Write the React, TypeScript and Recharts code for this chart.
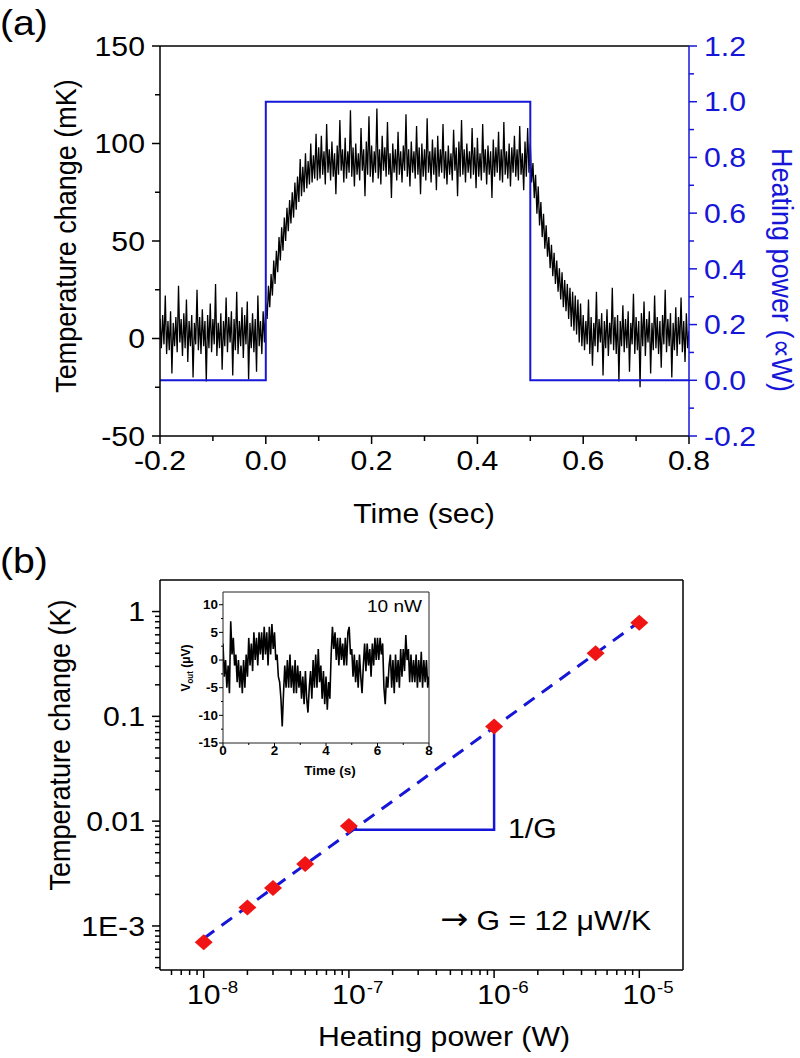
import React from 'react'
import { ComposedChart, Line, Scatter, XAxis, YAxis, ReferenceLine } from 'recharts'

const FONT = '"Liberation Sans", Arial, Helvetica, sans-serif'
const SX = 1.12 // the figure is a bit stretched sideways, text included
const BLUE = '#1616d8'
const RED = '#f01414'

// ---------- (a) temperature step ----------
// trace sampled every 2.5 ms starting at -0.2 s
const T0 = -0.2
const DT = 0.0025
const tempBefore = [
  10, -5, 12, -3, 22, -8, 9, -6, 14, -18,
  8, -4, 11, -7, 27, -2, 10, -9, 13, -5,
  20, -12, 9, -4, 12, -20, 8, -3, 25, -6,
  11, -8, 15, -4, 9, -22, 12, -5, 18, -7,
  10, -3, 28, -9, 8, -5, 13, -16, 9, -4,
  21, -7, 11, -2, 14, -19, 10, -6, 24, -8,
  9, -4, 16, -10, 12, -3, 19, -21, 8, -5,
  13, -7, 10, -17, 22, -4, 9, -8, 14, -2,
]
const tempRise = [
  18, 10, 27, 16, 33, 22, 40, 28, 45, 34,
  52, 40, 57, 45, 62, 50, 67, 55, 71, 59,
  75, 62, 80, 66, 83, 70, 92, 73, 88, 75,
  95, 77, 91, 79, 100, 80, 94, 82, 105, 81,
]
const tempOn = [
  98, 82, 104, 84, 96, 79, 110, 85, 97, 81,
  101, 83, 95, 74, 99, 84, 112, 86, 97, 80,
  103, 82, 96, 85, 117, 83, 98, 78, 100, 84,
  95, 81, 108, 86, 97, 73, 101, 84, 114, 83,
  99, 80, 96, 85, 118, 82, 97, 79, 104, 86,
  98, 83, 111, 84, 95, 72, 100, 85, 97, 81,
  106, 84, 96, 80, 99, 86, 115, 83, 97, 78,
  101, 85, 96, 82, 109, 84, 98, 74, 100, 83,
  97, 81, 113, 85, 96, 80, 102, 84, 98, 76,
  104, 83, 97, 85, 110, 82, 96, 79, 99, 84,
  95, 81, 107, 86, 98, 73, 101, 83, 112, 84,
  97, 80, 100, 85, 96, 82, 108, 84, 98, 77,
  103, 83, 95, 81, 110, 85, 97, 79, 99, 84,
  96, 72, 102, 83, 98, 85, 106, 81, 97, 80,
  111, 84, 96, 82, 100, 78, 98, 85, 104, 83,
  97, 81, 109, 84, 95, 76, 101, 83, 108, 85,
]
const tempDecay = [
  100, 80, 90, 72, 84, 64, 78, 58, 70, 52,
  64, 46, 58, 42, 52, 36, 48, 32, 44, 28,
  40, 24, 36, 20, 34, 16, 30, 14, 28, 10,
  26, 6, 24, 4, 22, 2, 20, -2, 18, -4,
]
const tempAfter = [
  12, -6, 9, -3, 20, -8, 11, -14, 8, -4,
  24, -7, 10, -2, 13, -19, 9, -5, 15, -9,
  8, -3, 26, -6, 11, -8, 12, -22, 9, -4,
  17, -7, 10, -5, 14, -17, 8, -3, 23, -8,
  11, -6, 9, -25, 13, -4, 19, -9, 10, -2,
  14, -18, 8, -6, 22, -5, 11, -8, 9, -15,
  12, -3, 25, -7, 10, -4, 13, -20, 8, -6,
  16, -9, 11, -3, 21, -7, 9, -12, 13, -5,
  4,
]
const powerTime = [-0.2, 0, 0, 0.5, 0.5, 0.8]
const powerLevel = [0, 0, 1, 1, 0, 0]

const timeTicks = [-0.2, -0.1, 0, 0.1, 0.2, 0.3, 0.4, 0.5, 0.6, 0.7, 0.8]
const timeMajors = [-0.2, 0, 0.2, 0.4, 0.6, 0.8]
const tempTicks = [-50, -25, 0, 25, 50, 75, 100, 125, 150]
const tempMajors = [-50, 0, 50, 100, 150]
const powerTicks = [-0.2, -0.1, 0, 0.1, 0.2, 0.3, 0.4, 0.5, 0.6, 0.7, 0.8, 0.9, 1, 1.1, 1.2]
const powerMajors = [-0.2, 0, 0.2, 0.4, 0.6, 0.8, 1, 1.2]

const tempTrace = [...tempBefore, ...tempRise, ...tempOn, ...tempDecay, ...tempAfter].map((v, i) => ({
  t: +(T0 + i * DT).toFixed(4),
  dT: v,
}))
const powerData = powerTime.map((t, i) => ({ t, p: powerLevel[i] }))

// ---------- (b) log-log ----------
const heatPower = [1e-8, 2e-8, 3e-8, 5e-8, 1e-7, 1e-6, 5e-6, 1e-5]
const tempRiseK = [7e-4, 1.5e-3, 2.3e-3, 3.9e-3, 9e-3, 0.08, 0.4, 0.78]
const fitPower = [1e-8, 1e-5]
const fitTemp = [7.6e-4, 0.8]
const slopePower = [1e-7, 1e-6, 1e-6]
const slopeTemp = [8.3e-3, 8.3e-3, 0.08]

const powerLogTicks = [
  6e-9, 7e-9, 8e-9, 9e-9, 1e-8, 2e-8, 3e-8, 4e-8, 5e-8, 6e-8, 7e-8, 8e-8, 9e-8,
  1e-7, 2e-7, 3e-7, 4e-7, 5e-7, 6e-7, 7e-7, 8e-7, 9e-7,
  1e-6, 2e-6, 3e-6, 4e-6, 5e-6, 6e-6, 7e-6, 8e-6, 9e-6, 1e-5,
]
const powerLogMajors = [1e-8, 1e-7, 1e-6, 1e-5]
const tempLogTicks = [
  4e-4, 5e-4, 6e-4, 7e-4, 8e-4, 9e-4, 1e-3, 2e-3, 3e-3, 4e-3, 5e-3, 6e-3, 7e-3, 8e-3, 9e-3,
  0.01, 0.02, 0.03, 0.04, 0.05, 0.06, 0.07, 0.08, 0.09, 0.1, 0.2, 0.3, 0.4, 0.5, 0.6, 0.7, 0.8, 0.9, 1,
]
const tempLogMajors = [1e-3, 0.01, 0.1, 1]
const tempLogLabels: Record<string, string> = { '0.001': '1E-3', '0.01': '0.01', '0.1': '0.1', '1': '1' }

const pointsB = heatPower.map((P, i) => ({ P, K: tempRiseK[i] }))
const fitB = fitPower.map((P, i) => ({ P, K: fitTemp[i] }))
const slopeB = slopePower.map((P, i) => ({ P, K: slopeTemp[i] }))

// ---------- inset: 10 nW voltage trace, every 50 ms ----------
const INSET_DT = 0.05
const vout = [
  3, -3, 0, -5, -1, -6, 7, 1, 4, -1,
  1, -4, 0, -5, -1, -6, 0, -5, 1, -3,
  4, -1, 3, -2, 5, 0, 4, -1, 5, 1,
  5, 0, 6, 1, 5, -1, 6, 1, 6.5, 2,
  5, 0, 1, -3, -4, -7, -12, -6, -1, -5,
  0, -5, 1, -5, -1, -6, 0, -6, -1, -5,
  -2, -7, -3, -8, -2, -7, -9.5, -5, -2, -7,
  0, -5, 1, -5, 2, -4, -1, -7, -2, -8,
  -3, -9, -4, -7, 1, 6, 2, 5, 0, 4,
  -1, 4, 0, 3, -1, 4, -1, 5, 6, 1,
  2, -3, 1, -4, 0, -5, 1, -3, -6, -1,
  3, -2, 3, -1, 2, -3, 3, -1, 4, 0,
  4, 0, 4, 1, 3, -5, -8, -3, -5, -1,
  1, -5, 0, -6, 1, -4, 0, -5, 2, -3,
  2, -2, 4.5, 0, 2, -4, 1, -4, 0, -4,
  1, -5, 0, -4, 1.5, -5, 0, -4, 0, -5,
  -3,
]
const insetTimeTicks = [0, 1, 2, 3, 4, 5, 6, 7, 8]
const insetTimeMajors = [0, 2, 4, 6, 8]
const insetVTicks = [-15, -12.5, -10, -7.5, -5, -2.5, 0, 2.5, 5, 7.5, 10]
const insetVMajors = [-15, -10, -5, 0, 5, 10]
const insetData = vout.map((v, i) => ({ s: +(i * INSET_DT).toFixed(2), v }))

// ---------- helpers ----------
const isIn = (v: number, list: number[]) => list.some((m) => Math.abs(m - v) <= Math.abs(m) * 1e-6 + 1e-12)

type TickCfg = {
  side: 'left' | 'right' | 'bottom'
  majors: number[]
  fmt: (v: number) => string
  color?: string
  size?: number
  bold?: boolean
  majorLen?: number
  minorLen?: number
  gap?: number
  pow?: boolean
  width?: number
}

function tickRenderer(c: TickCfg) {
  return (p: any) => {
    const x = p.x
    const y = p.y
    const v = p.payload?.value
    const major = isIn(v, c.majors)
    const color = c.color ?? '#000'
    const size = c.size ?? 27
    const ml = c.majorLen ?? 8
    const len = major ? ml : c.minorLen ?? 5
    const gap = c.gap ?? 7
    const sw = c.width ?? 1.5
    const common = { fill: color, fontSize: size, fontFamily: FONT, fontWeight: c.bold ? 700 : 400 }
    if (c.side === 'left') {
      return (
        <g>
          <line x1={x} y1={y} x2={x - len} y2={y} stroke={color} strokeWidth={sw} />
          {major && (
            <text transform={`translate(${x - ml - gap},${y + size * 0.36}) scale(${SX},1)`} textAnchor="end" {...common}>
              {c.fmt(v)}
            </text>
          )}
        </g>
      )
    }
    if (c.side === 'right') {
      return (
        <g>
          <line x1={x} y1={y} x2={x + len} y2={y} stroke={color} strokeWidth={sw} />
          {major && (
            <text transform={`translate(${x + ml + gap},${y + size * 0.36}) scale(${SX},1)`} textAnchor="start" {...common}>
              {c.fmt(v)}
            </text>
          )}
        </g>
      )
    }
    const base = y + ml + gap + size * 0.72
    return (
      <g>
        <line x1={x} y1={y} x2={x} y2={y + len} stroke={color} strokeWidth={sw} />
        {major && !c.pow && (
          <text transform={`translate(${x},${base}) scale(${SX},1)`} textAnchor="middle" {...common}>
            {c.fmt(v)}
          </text>
        )}
        {major && c.pow && (
          <g>
            <text transform={`translate(${x},${base}) scale(${SX},1)`} textAnchor="middle" {...common}>
              10
            </text>
            <text
              transform={`translate(${x + size * 0.556 * SX + 1},${base - size * 0.42}) scale(${SX},1)`}
              textAnchor="start"
              {...common}
              fontSize={size * 0.62}
            >
              {c.fmt(v)}
            </text>
          </g>
        )}
      </g>
    )
  }
}

function Label({ x, y, size = 27, color = '#000', anchor = 'middle', rotate = 0, bold = false, children }: any) {
  const shift = anchor === 'middle' ? '-50%' : anchor === 'end' ? '-100%' : '0%'
  return (
    <div
      style={{
        position: 'absolute',
        left: x,
        top: y,
        transformOrigin: '0 0',
        transform: `scaleX(${SX}) rotate(${rotate}deg) translate(${shift}, -50%)`,
        fontFamily: FONT,
        fontSize: size,
        lineHeight: 1,
        color,
        fontWeight: bold ? 700 : 400,
        whiteSpace: 'nowrap',
      }}
    >
      {children}
    </div>
  )
}

const Diamond = (p: any) => {
  const { cx, cy } = p
  if (cx == null || cy == null) return null
  return <polygon points={`${cx},${cy - 8} ${cx + 9},${cy} ${cx},${cy + 8} ${cx - 9},${cy}`} fill={RED} />
}

const axisBlack = { stroke: '#000', strokeWidth: 1.5 }

function PanelA() {
  return (
    <div style={{ position: 'absolute', left: 0, top: 0 }}>
      <ComposedChart width={800} height={540} margin={{ top: 46, right: 0, bottom: 0, left: 0 }}>
        <XAxis
          type="number"
          dataKey="t"
          domain={[-0.2, 0.8]}
          allowDataOverflow
          ticks={timeTicks}
          interval={0}
          height={104}
          tickSize={0}
          tickMargin={0}
          tickLine={false}
          axisLine={axisBlack}
          tick={tickRenderer({ side: 'bottom', majors: timeMajors, fmt: (v) => v.toFixed(1) })}
        />
        <YAxis
          yAxisId="T"
          domain={[-50, 150]}
          allowDataOverflow
          ticks={tempTicks}
          interval={0}
          width={160}
          tickSize={0}
          tickMargin={0}
          tickLine={false}
          axisLine={axisBlack}
          tick={tickRenderer({ side: 'left', majors: tempMajors, fmt: (v) => String(v) })}
        />
        <YAxis
          yAxisId="P"
          orientation="right"
          domain={[-0.2, 1.2]}
          allowDataOverflow
          ticks={powerTicks}
          interval={0}
          width={111}
          tickSize={0}
          tickMargin={0}
          tickLine={false}
          axisLine={{ stroke: BLUE, strokeWidth: 1.5 }}
          tick={tickRenderer({ side: 'right', majors: powerMajors, fmt: (v) => v.toFixed(1), color: BLUE })}
        />
        <ReferenceLine yAxisId="T" y={150} stroke="#000" strokeWidth={1.5} />
        <Line
          yAxisId="T"
          data={tempTrace}
          dataKey="dT"
          type="linear"
          stroke="#000"
          strokeWidth={1.3}
          dot={false}
          isAnimationActive={false}
        />
        <Line
          yAxisId="P"
          data={powerData}
          dataKey="p"
          type="linear"
          stroke={BLUE}
          strokeWidth={2}
          dot={false}
          isAnimationActive={false}
        />
      </ComposedChart>
    </div>
  )
}

function PanelB() {
  return (
    <div style={{ position: 'absolute', left: 0, top: 540 }}>
      <ComposedChart width={800} height={518} margin={{ top: 40, right: 117, bottom: 0, left: 0 }}>
        <XAxis
          type="number"
          dataKey="P"
          scale="log"
          domain={[5e-9, 2e-5]}
          allowDataOverflow
          ticks={powerLogTicks}
          interval={0}
          height={88}
          tickSize={0}
          tickMargin={0}
          tickLine={false}
          axisLine={axisBlack}
          tick={tickRenderer({ side: 'bottom', majors: powerLogMajors, fmt: (v) => String(Math.round(Math.log10(v))), pow: true })}
        />
        <YAxis
          dataKey="K"
          scale="log"
          domain={[3.8e-4, 2]}
          allowDataOverflow
          ticks={tempLogTicks}
          interval={0}
          width={160}
          tickSize={0}
          tickMargin={0}
          tickLine={false}
          axisLine={axisBlack}
          tick={tickRenderer({ side: 'left', majors: tempLogMajors, fmt: (v) => tempLogLabels[String(v)] ?? String(v) })}
        />
        <ReferenceLine y={2} stroke="#000" strokeWidth={1.5} />
        <ReferenceLine x={2e-5} stroke="#000" strokeWidth={1.5} />
        <Line
          data={fitB}
          dataKey="K"
          type="linear"
          stroke={BLUE}
          strokeWidth={3}
          strokeDasharray="13 9"
          dot={false}
          isAnimationActive={false}
        />
        <Line
          data={slopeB}
          dataKey="K"
          type="linear"
          stroke={BLUE}
          strokeWidth={2.5}
          dot={false}
          isAnimationActive={false}
        />
        <Scatter data={pointsB} dataKey="K" shape={Diamond} isAnimationActive={false} />
      </ComposedChart>
    </div>
  )
}

function Inset() {
  return (
    <div style={{ position: 'absolute', left: 150, top: 560 }}>
      <ComposedChart width={290} height={230} margin={{ top: 32, right: 11, bottom: 0, left: 0 }}>
        <XAxis
          type="number"
          dataKey="s"
          domain={[0, 8]}
          allowDataOverflow
          ticks={insetTimeTicks}
          interval={0}
          height={47}
          tickSize={0}
          tickMargin={0}
          tickLine={false}
          axisLine={{ stroke: '#222', strokeWidth: 1 }}
          tick={tickRenderer({
            side: 'bottom', majors: insetTimeMajors, fmt: (v) => String(v), size: 12, bold: true,
            majorLen: 3, minorLen: 2, gap: 0, width: 1,
          })}
        />
        <YAxis
          domain={[-15, 12.3]}
          allowDataOverflow
          ticks={insetVTicks}
          interval={0}
          width={73}
          tickSize={0}
          tickMargin={0}
          tickLine={false}
          axisLine={{ stroke: '#222', strokeWidth: 1 }}
          tick={tickRenderer({
            side: 'left', majors: insetVMajors, fmt: (v) => String(v), size: 12, bold: true,
            majorLen: 4, minorLen: 2, gap: 1, width: 1,
          })}
        />
        <ReferenceLine y={12.3} stroke="#222" strokeWidth={1} />
        <ReferenceLine x={8} stroke="#222" strokeWidth={1} />
        <Line
          data={insetData}
          dataKey="v"
          type="linear"
          stroke="#000"
          strokeWidth={1.6}
          dot={false}
          isAnimationActive={false}
        />
      </ComposedChart>
    </div>
  )
}

export default function App() {
  return (
    <div style={{ position: 'absolute', left: 0, top: 0, width: 800, height: 1058, background: '#fff', overflow: 'hidden' }}>
      <PanelA />
      <PanelB />
      <Inset />

      <Label x={0} y={22} size={35} anchor="start">(a)</Label>
      <Label x={66} y={236} rotate={-90}>Temperature change (mK)</Label>
      <Label x={782} y={270} rotate={90} color={BLUE}>Heating power (∝W)</Label>
      <Label x={424} y={514}>Time (sec)</Label>

      <Label x={0} y={560} size={35} anchor="start">(b)</Label>
      <Label x={60} y={745} rotate={-90}>Temperature change (K)</Label>
      <Label x={444} y={1037}>Heating power (W)</Label>
      <Label x={508} y={829} anchor="start">1/G</Label>
      <Label x={440} y={920} anchor="start">
        <span style={{ fontFamily: '"DejaVu Sans", sans-serif', fontSize: 30, position: 'relative', top: -1 }}>→</span> G = 12 μW/K
      </Label>

      <Label x={367} y={606} size={17} anchor="start">10 nW</Label>
      <Label x={330} y={771} size={12} bold>Time (s)</Label>
      <Label x={187} y={668} size={12} bold rotate={-90}>
        V<sub style={{ fontSize: 8 }}>out</sub> (μV)
      </Label>
    </div>
  )
}
